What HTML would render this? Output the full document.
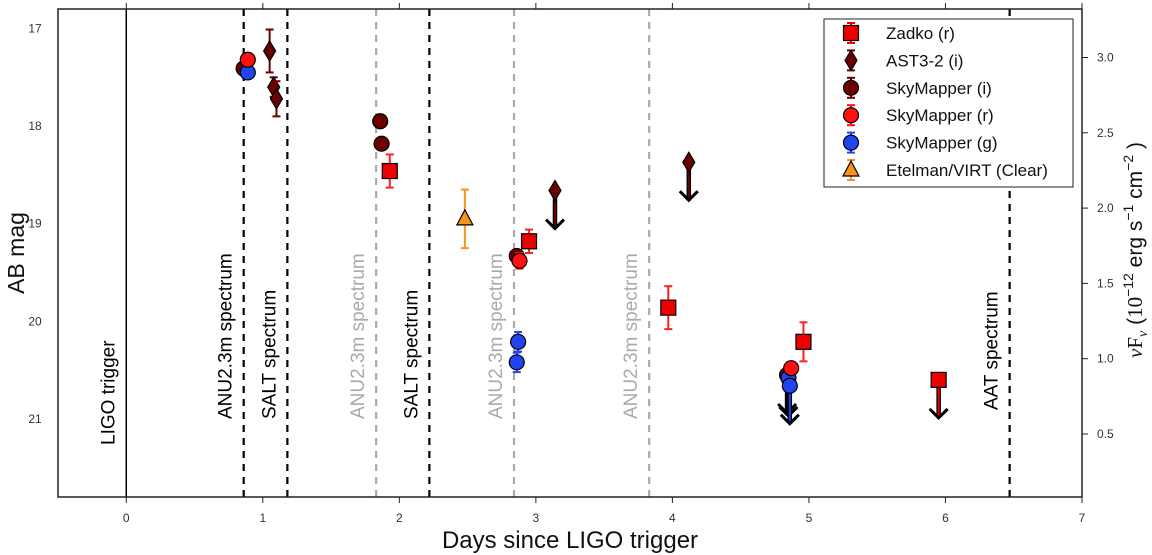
<!DOCTYPE html>
<html><head><meta charset="utf-8">
<style>
html,body{margin:0;padding:0;background:#fff;}
svg{display:block;font-family:"Liberation Sans",sans-serif;}
</style></head>
<body>
<svg id="chart" width="1152" height="555" viewBox="0 0 1152 555">
  <g id="vlines"></g>
  <g id="marks"></g>
  <g id="axes"></g>
  <g id="legend"></g>
</svg>
<script>
// ---- data ----
const xTicks = [0,1,2,3,4,5,6,7];
const yTicks = [17,18,19,20,21];
const rightTickLabels = ["3.0","2.5","2.0","1.5","1.0","0.5"];
const rightTickValues = [3.0,2.5,2.0,1.5,1.0,0.5];

const eventDays = [0, 0.86, 1.18, 1.83, 2.22, 2.84, 3.83, 6.47];
const eventLabels = ["LIGO trigger","ANU2.3m spectrum","SALT spectrum","ANU2.3m spectrum","SALT spectrum","ANU2.3m spectrum","ANU2.3m spectrum","AAT spectrum"];
const eventKinds = ["solid","black","black","gray","black","gray","gray","black"];

const zadkoT = [1.93, 2.95, 3.97, 4.96];
const zadkoM = [18.46, 19.18, 19.86, 20.21];
const zadkoE = [0.17, 0.12, 0.22, 0.2];
const zadkoLimT = [5.95];
const zadkoLimM = [20.6];

const astT = [1.05, 1.08, 1.10];
const astM = [17.23, 17.6, 17.72];
const astE = [0.22, 0.1, 0.18];
const astLimT = [3.14, 4.12];
const astLimM = [18.66, 18.37];

const smiT = [0.86, 1.86, 1.87, 2.86];
const smiM = [17.41, 17.95, 18.18, 19.33];
const smiE = [0.03, 0.05, 0.06, 0.05];
const smiLimT = [4.84];
const smiLimM = [20.55];

const smrT = [0.89, 2.88, 4.87];
const smrM = [17.32, 19.38, 20.48];
const smrE = [0.06, 0.08, 0.05];

const smgT = [0.89, 2.87, 2.86];
const smgM = [17.45, 20.21, 20.42];
const smgE = [0.06, 0.1, 0.1];
const smgLimT = [4.85, 4.86];
const smgLimM = [20.58, 20.66];

const etT = [2.48];
const etM = [18.95];
const etE = [0.3];

// ---- scales ----
const L=58, R=1082, T=9, B=497;
const x = d => L + (d - (-0.5)) / 7.5 * (R - L);
const y = m => T + (m - 16.8) / 5.0 * (B - T);
const yR = v => 434 - (v - 0.5) * 150.6;

const NS="http://www.w3.org/2000/svg";
function mk(tag, attrs, parent){const e=document.createElementNS(NS,tag);for(const k in attrs)e.setAttribute(k,attrs[k]);parent.appendChild(e);return e;}
const gV=document.getElementById('vlines'), gM=document.getElementById('marks'), gA=document.getElementById('axes'), gL=document.getElementById('legend');

const labelBottom = [445, 419, 419, 419, 419, 419, 419, 410];
eventDays.forEach((d,i)=>{
  const col = eventKinds[i]==="gray" ? "#aaaaaa" : "#000";
  const ln = mk('line',{x1:x(d),x2:x(d),y1:T,y2:B,stroke:col,'stroke-width':eventKinds[i]==="solid"?1.5:2.2,'stroke-dasharray':eventKinds[i]==="solid"?"none":"7,6"},gV);
  
  
  const tx = x(d) - 12, ty = labelBottom[i];
  const t = mk('text',{x:tx,y:ty,transform:`rotate(-90 ${tx} ${ty})`,'font-size':19,fill:col},gV);
  t.textContent = eventLabels[i];
  
  
});

function errbar(cx, m, e, col, g){
  mk('line',{x1:cx,x2:cx,y1:y(m-e),y2:y(m+e),stroke:col,'stroke-width':2},g);
  mk('line',{x1:cx-4,x2:cx+4,y1:y(m-e),y2:y(m-e),stroke:col,'stroke-width':2},g);
  mk('line',{x1:cx-4,x2:cx+4,y1:y(m+e),y2:y(m+e),stroke:col,'stroke-width':2},g);
}
function marker(shape, cx, cy, fill, g){
  if(shape==='sq') return mk('rect',{x:cx-7.5,y:cy-7.5,width:15,height:15,fill:fill,stroke:'#000','stroke-width':1.2},g);
  if(shape==='ci') return mk('circle',{cx:cx,cy:cy,r:7.5,fill:fill,stroke:'#000','stroke-width':1.2},g);
  if(shape==='di') return mk('polygon',{points:`${cx},${cy-10} ${cx+6},${cy} ${cx},${cy+10} ${cx-6},${cy}`,fill:fill,stroke:'#000','stroke-width':1.2},g);
  if(shape==='tr') return mk('polygon',{points:`${cx},${cy-9} ${cx+8},${cy+6} ${cx-8},${cy+6}`,fill:fill,stroke:'#000','stroke-width':1.2},g);
}
function arrow(cx, cy, col, g){
  const tip = cy + 38;
  mk('line',{x1:cx,x2:cx,y1:cy,y2:tip,stroke:'#000','stroke-width':4.5},g);
  mk('line',{x1:cx,x2:cx,y1:cy,y2:tip-1,stroke:col,'stroke-width':2},g);
  mk('polyline',{points:`${cx-9},${tip-9} ${cx},${tip} ${cx+9},${tip-9}`,fill:'none',stroke:'#000','stroke-width':3},g);
}
function series(name, shape, fill, ecol, T_, M_, E_, LT, LM){
  const g = mk('g',{},gM);
  
  
  if(LT) LT.forEach((d,i)=>{ arrow(x(d), y(LM[i]), fill, g); });
  T_.forEach((d,i)=>{ if(E_) errbar(x(d), M_[i], E_[i], ecol, g);
    const p = marker(shape, x(d), y(M_[i]), fill, g);
    
     });
  if(LT) LT.forEach((d,i)=>{ const p = marker(shape, x(d), y(LM[i]), fill, g);
    
     });
}
series('etelman-virt','tr','#f7941d','#f7941d',etT,etM,etE);
series('skymapper-i','ci','#6b0000','#6b0000',smiT,smiM,smiE,smiLimT,smiLimM);
series('skymapper-g','ci','#2244ee','#2244ee',smgT,smgM,smgE,smgLimT,smgLimM);
series('skymapper-r','ci','#ff1010','#ff1010',smrT,smrM,smrE);
series('ast3-2','di','#6b0000','#6b0000',astT,astM,astE,astLimT,astLimM);
series('zadko','sq','#ee0000','#ff2020',zadkoT,zadkoM,zadkoE,zadkoLimT,zadkoLimM);

const fr = mk('rect',{x:L,y:T,width:R-L,height:B-T,fill:'none',stroke:'#222','stroke-width':1.5},gA);


xTicks.forEach(d=>{
  mk('line',{x1:x(d),x2:x(d),y1:B,y2:B+6,stroke:'#222','stroke-width':1},gA);
  mk('line',{x1:x(d),x2:x(d),y1:T,y2:T-6,stroke:'#222','stroke-width':1},gA);
  const t=mk('text',{x:x(d),y:522,'font-size':12,fill:'#333','text-anchor':'middle'},gA);
  t.textContent=d;
  
  
});
yTicks.forEach(m=>{
  const t=mk('text',{x:35,y:y(m)+4,'font-size':12,fill:'#333','text-anchor':'middle'},gA);
  t.textContent=m;
  
  
});
rightTickValues.forEach((v,i)=>{
  mk('line',{x1:R,x2:R+6,y1:yR(v),y2:yR(v),stroke:'#222','stroke-width':1},gA);
  const t=mk('text',{x:1097,y:yR(v)+4,'font-size':12,fill:'#333'},gA);
  t.textContent=rightTickLabels[i];
  
  
});
let t=mk('text',{x:24,y:253,'font-size':23,fill:'#111','text-anchor':'middle',transform:'rotate(-90 24 253)'},gA);
t.textContent='AB mag';


t=mk('text',{x:570,y:548,'font-size':24,fill:'#111','text-anchor':'middle'},gA);
t.textContent='Days since LIGO trigger';


t=mk('text',{x:1142,y:250,'font-size':21,fill:'#111','text-anchor':'middle',transform:'rotate(-90 1142 250)'},gA);
t.innerHTML='<tspan font-family="Liberation Serif" font-style="italic">ν</tspan><tspan font-family="Liberation Serif">F</tspan><tspan font-family="Liberation Serif" font-style="italic" font-size="14" dy="5">ν</tspan><tspan dy="-5"> (</tspan><tspan font-family="Liberation Serif">10</tspan><tspan font-size="14" dy="-9">−12</tspan><tspan dy="9"> erg s</tspan><tspan font-size="14" dy="-9">−1</tspan><tspan dy="9"> cm</tspan><tspan font-size="14" dy="-9">−2</tspan><tspan dy="9"> )</tspan>';



const legNames=["Zadko (r)","AST3-2 (i)","SkyMapper (i)","SkyMapper (r)","SkyMapper (g)","Etelman/VIRT (Clear)"];
const legShapes=["sq","di","ci","ci","ci","tr"];
const legFills=["#ee0000","#6b0000","#6b0000","#ff1010","#2244ee","#f7941d"];
mk('rect',{x:824,y:19,width:249,height:168,fill:'#fff',stroke:'#222','stroke-width':1},gL);
legNames.forEach((n,i)=>{
  const cy = 33 + i*27.4;
  const g = mk('g',{},gL);
  
  
  mk('line',{x1:851,x2:851,y1:cy-10,y2:cy+10,stroke:legFills[i],'stroke-width':2},g);
  mk('line',{x1:847,x2:855,y1:cy-10,y2:cy-10,stroke:legFills[i],'stroke-width':2},g);
  mk('line',{x1:847,x2:855,y1:cy+10,y2:cy+10,stroke:legFills[i],'stroke-width':2},g);
  marker(legShapes[i],851,cy,legFills[i],g);
  const tt=mk('text',{x:886,y:cy+6,'font-size':17,fill:'#111'},g);
  tt.textContent=n;
});
</script>
</body></html>
